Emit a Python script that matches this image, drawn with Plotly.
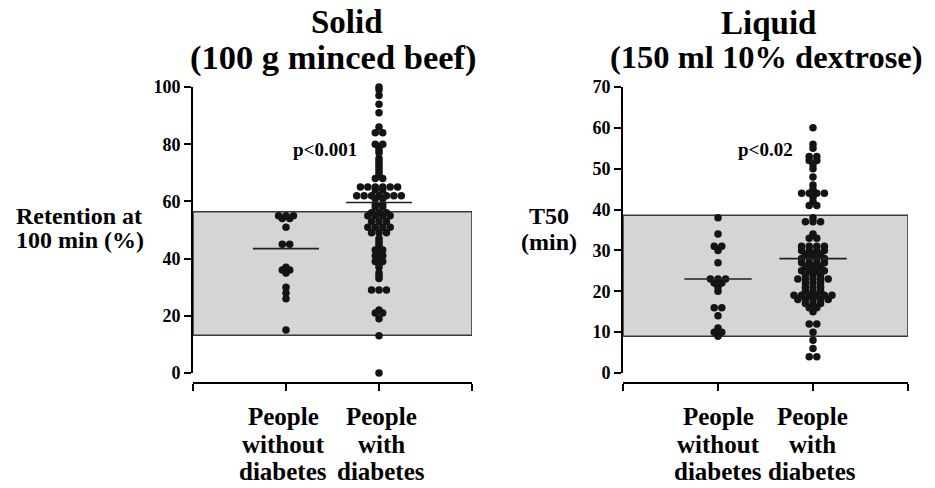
import plotly.graph_objects as go
from collections import Counter, defaultdict

W, H = 935, 488

# ---------------- data ----------------
group_lines = [["People", "without", "diabetes"], ["People", "with", "diabetes"]]
group_pos = [1, 2]

titles = [["Solid", "(100 g minced beef)"], ["Liquid", "(150 ml 10% dextrose)"]]
ylabels = [["Retention at", "100 min (%)"], ["T50", "(min)"]]
p_labels = ["p<0.001", "p<0.02"]

solid_ticks = [0, 20, 40, 60, 80, 100]
liquid_ticks = [0, 10, 20, 30, 40, 50, 60, 70]

solid_without = [55, 55, 55, 54, 54, 51, 45, 45, 37, 36, 36, 35, 30, 28, 26, 15]
solid_with = [100, 99, 97, 94, 91,
              86, 84, 84,
              80, 80, 79, 78, 77,
              75, 74, 73, 72, 71, 70, 69, 68, 68,
              65, 65, 65, 65, 65, 65, 64, 64, 62, 62, 62, 62, 62, 62, 62, 61, 61,
              59, 59, 58, 58,
              56, 56, 56, 55, 55, 55, 55, 53, 53, 53, 51, 51, 51, 51, 49, 49, 49,
              47, 46, 45, 44, 43, 43, 42, 41, 41, 40, 39, 39, 38, 37,
              35, 34, 33,
              29, 29, 29,
              22, 21, 21, 19,
              13, 0]
solid_medians = [43.5, 59.6]
solid_normal = [13.2, 56.4]

liquid_without = [38, 34, 31, 31, 30, 27, 23, 23, 23, 22, 22, 21, 20, 16, 16, 14, 11, 10, 10, 9]
liquid_with = [60, 56, 55, 53, 53, 52, 52, 51, 50, 48, 46,
               45, 44, 44, 44, 44, 43, 42, 41, 41,
               38, 37, 37, 37, 34, 33, 33,
               31, 31, 31, 31, 30, 30, 30, 30, 29, 29, 29,
               28, 28, 28, 28, 27, 27, 27, 27, 26, 26, 26, 25, 25, 25, 25, 24, 24, 24,
               23, 23, 23, 23, 23, 22, 22, 22,
               21, 21, 21, 20, 20, 20,
               19, 19, 19, 19, 19, 19, 18, 18, 18, 18, 18,
               17, 17, 17, 16, 16, 15, 12, 12, 10, 8, 6, 4, 4]
liquid_medians = [23.0, 28.0]
liquid_normal = [9.0, 38.6]

panels = [
    dict(groups=[solid_without, solid_with], medians=solid_medians, normal=solid_normal,
         ticks=solid_ticks, yrange=[0, 100]),
    dict(groups=[liquid_without, liquid_with], medians=liquid_medians, normal=liquid_normal,
         ticks=liquid_ticks, yrange=[0, 70]),
]

# ---------------- geometry (target pixels in the window) ----------------
OFF = 0  # body margin removed by post_script
x_dom_px = [(193, 472), (623, 908)]
y_top_px, y_bot_px, xaxis_px = 87, 373, 383
DOT_DX = 0.08
MED_HALF = 0.355

def px(xp):
    return (xp - OFF) / W

def py(yp):
    return 1 - (yp - OFF) / H

def swarm(values, center, dx):
    counts = Counter(values)
    seen = defaultdict(int)
    xs = []
    for v in values:
        n = counts[v]
        i = seen[v]
        seen[v] += 1
        xs.append(center + (i - (n - 1) / 2) * dx)
    return xs

FONT = "Liberation Serif"
fig = go.Figure()
shapes = []
annotations = []

for k, p in enumerate(panels):
    xa = "x" if k == 0 else "x2"
    ya = "y" if k == 0 else "y2"
    shapes.append(dict(type="rect", xref=xa, yref=ya, x0=0, x1=3,
                       y0=p["normal"][0], y1=p["normal"][1],
                       fillcolor="#d5d5d5", line=dict(color="#3a3a3a", width=1.6),
                       layer="below"))
    for g, vals in enumerate(p["groups"]):
        c = group_pos[g]
        fig.add_trace(go.Scatter(x=swarm(vals, c, DOT_DX), y=vals, mode="markers",
                                 xaxis=xa, yaxis=ya,
                                 marker=dict(size=7.5, color="#141414", line=dict(width=0)),
                                 showlegend=False, cliponaxis=False))
        m = p["medians"][g]
        fig.add_trace(go.Scatter(x=[c - MED_HALF, c + MED_HALF], y=[m, m], mode="lines",
                                 xaxis=xa, yaxis=ya,
                                 line=dict(color="#222222", width=1.6),
                                 showlegend=False))

axis_common = dict(showgrid=False, zeroline=False, showline=True, linecolor="black",
                   linewidth=1.6, ticks="outside", ticklen=7, tickwidth=1.6, tickcolor="black",
                   automargin=False)
tickfont = dict(family=FONT, size=18, color="black", weight="bold")

layout = dict(width=W, height=H, autosize=False, margin=dict(l=0, r=0, t=0, b=0, autoexpand=False),
              paper_bgcolor="white", plot_bgcolor="white", showlegend=False)
for k, p in enumerate(panels):
    sx = "" if k == 0 else "2"
    layout["xaxis" + sx] = dict(axis_common, domain=[px(x_dom_px[k][0]), px(x_dom_px[k][1])],
                                range=[0, 3], anchor="free", position=py(xaxis_px),
                                tickvals=[0, 1, 2, 3], ticktext=["", "", "", ""])
    layout["yaxis" + sx] = dict(axis_common, domain=[py(y_bot_px), py(y_top_px)],
                                range=p["yrange"], anchor="x" + sx, tickvals=p["ticks"],
                                ticktext=[str(t) for t in p["ticks"]], tickfont=tickfont)

def ann(text, x, y, size, xanchor="center"):
    annotations.append(dict(text="<b>%s</b>" % text, x=px(x), y=py(y), xref="paper",
                            yref="paper", showarrow=False, xanchor=xanchor, yanchor="middle",
                            font=dict(family=FONT, size=size, color="black")))

title_pos = [[(347, 22), (333, 58)], [(768, 23), (766, 57)]]
title_size = [[33, 34.5], [33, 32.5]]
for k in range(2):
    for j in range(2):
        ann(titles[k][j], title_pos[k][j][0], title_pos[k][j][1], title_size[k][j])

ann(ylabels[0][0], 14, 216, 24, "left")
ann(ylabels[0][1], 14, 240, 24, "left")
ann(ylabels[1][0], 549, 216, 24)
ann(ylabels[1][1], 549, 242, 24)

ann(p_labels[0], 325, 149, 19)
ann(p_labels[1], 765, 149, 19)

cat_x = [[283, 381], [718, 812]]
cat_y = [416, 444, 471]
for k in range(2):
    for g in range(2):
        for j, line in enumerate(group_lines[g]):
            ann(line, cat_x[k][g], cat_y[j], 25)

layout["shapes"] = shapes
layout["annotations"] = annotations
fig.update_layout(**layout)
fig.write_html("out.html", config={"responsive": False, "displayModeBar": False},
               post_script="document.body.style.margin='0';")
